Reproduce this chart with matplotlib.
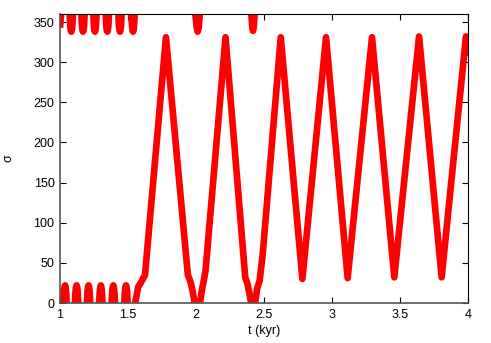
import numpy as np
import matplotlib
matplotlib.use("Agg")
import matplotlib.pyplot as plt

plt.rcParams['font.family'] = ['Liberation Sans', 'DejaVu Sans']

# sigma (deg, wrapped to 0..360)
t_kyr = [
    1.000, 1.008,
    1.025, 1.029, 1.033, 1.037, 1.041, 1.045, 1.049,
    1.071, 1.075, 1.079, 1.083, 1.087, 1.091, 1.095,
    1.110, 1.114, 1.118, 1.122, 1.126, 1.130, 1.134,
    1.157, 1.161, 1.165, 1.169, 1.173, 1.177, 1.181,
    1.198, 1.202, 1.206, 1.210, 1.214, 1.218, 1.222,
    1.245, 1.249, 1.253, 1.257, 1.261, 1.265, 1.269,
    1.288, 1.292, 1.296, 1.300, 1.304, 1.308, 1.312,
    1.336, 1.340, 1.344, 1.348, 1.352, 1.356, 1.360,
    1.380, 1.384, 1.388, 1.392, 1.396, 1.400, 1.404,
    1.429, 1.433, 1.437, 1.441, 1.445, 1.449, 1.453,
    1.473, 1.477, 1.481, 1.485, 1.489, 1.493, 1.497,
    1.525, 1.529, 1.533, 1.537, 1.541, 1.545, 1.549,
    1.553, 1.575, 1.600, 1.625, 1.779,
    1.940, 1.960, 1.975, 1.990,
    1.995, 2.005, 2.012, 2.020, 2.028,
    2.030, 2.042, 2.055, 2.070, 2.217,
    2.362, 2.378, 2.393, 2.405,
    2.407, 2.413, 2.419, 2.425, 2.431,
    2.434, 2.450, 2.468, 2.490, 2.623,
    2.782, 2.956, 3.115, 3.294, 3.458, 3.640, 3.806, 3.985,
    3.995, 4.005,
]
sigma = [
    343, 360,
    0, 14, 20, 22, 20, 14, 0,
    360, 346, 340, 338, 340, 346, 360,
    0, 14, 20, 22, 20, 14, 0,
    360, 346, 340, 338, 340, 346, 360,
    0, 14, 20, 22, 20, 14, 0,
    360, 346, 340, 338, 340, 346, 360,
    0, 14, 20, 22, 20, 14, 0,
    360, 346, 340, 338, 340, 346, 360,
    0, 14, 20, 22, 20, 14, 0,
    360, 346, 340, 338, 340, 346, 360,
    0, 14, 20, 22, 20, 14, 0,
    360, 346, 340, 338, 340, 346, 360,
    0, 20, 27, 35, 331,
    35, 26, 15, 0,
    360, 343, 338, 343, 360,
    0, 15, 26, 40, 331,
    32, 24, 12, 0,
    360, 345, 339, 345, 360,
    0, 18, 28, 60, 331,
    30, 331, 31, 331, 32, 332, 32, 332,
    322, 308,
]

x_ticks = [1, 1.5, 2, 2.5, 3, 3.5, 4]
x_labels = ["1", "1.5", "2", "2.5", "3", "3.5", "4"]
y_ticks = [0, 50, 100, 150, 200, 250, 300, 350]

# break the line where sigma wraps round (a 0 next to a 360)
t = np.array(t_kyr, dtype=float)
s = np.array(sigma, dtype=float)
wrap = ((s[:-1] == 0) & (s[1:] == 360)) | ((s[:-1] == 360) & (s[1:] == 0))
jumps = np.where(wrap)[0] + 1
t = np.insert(t, jumps, np.nan)
s = np.insert(s, jumps, np.nan)

fig = plt.figure(figsize=(4.91, 3.43), dpi=100)
ax = fig.add_axes([0.1222, 0.1166, 0.8310, 0.8426])
ax.plot(t, s, color='#ff0000', lw=4.8, solid_joinstyle='round',
        solid_capstyle='butt')

ax.set_xlim(1, 4)
ax.set_ylim(0, 360)
ax.set_xticks(x_ticks, x_labels)
ax.set_yticks(y_ticks)
ax.tick_params(direction='in', length=4, width=0.8, top=True, right=True,
               labelsize=9, pad=4, colors='black')
for side in ['top', 'right']:
    ax.spines[side].set_color('black')
for side in ['left', 'bottom']:
    ax.spines[side].set_color('#555555')
    ax.spines[side].set_linewidth(1.2)

ax.set_xlabel("t (kyr)", fontsize=9, labelpad=3)
ax.set_ylabel("σ", fontsize=9, labelpad=14)

fig.savefig("out.png", dpi=100)
